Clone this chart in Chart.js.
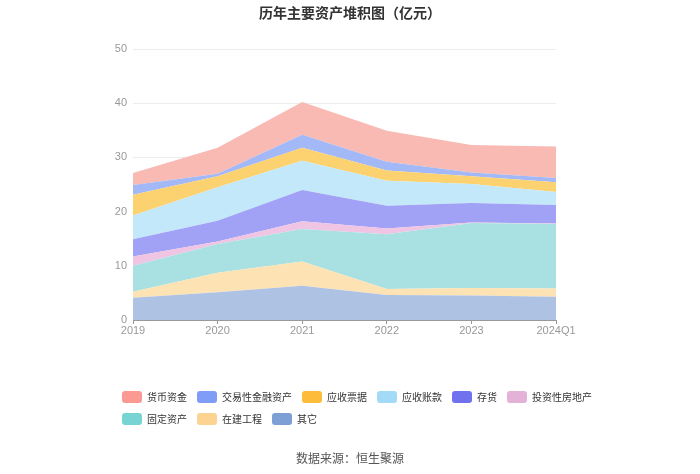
<!DOCTYPE html>
<html>
<head>
<meta charset="utf-8">
<script src="https://cdn.jsdelivr.net/npm/chart.js@4/dist/chart.umd.min.js"></script>
<style>
  body { margin: 0; background: #fff; font-family: "Noto Sans CJK SC", "Noto Sans", sans-serif; }
  #wrap { position: relative; width: 700px; height: 474px; }
  #title { position: absolute; top: 2px; left: 0; width: 700px; text-align: center; font-size: 14px; font-weight: bold; color: #333; }
  #legend { position: absolute; left: 122px; top: 387px; width: 480px; font-size: 10px; color: #333; line-height: 20px; }
  .item { display: inline-flex; align-items: center; margin-right: 10px; height: 20px; }
  .box { width: 20px; height: 12px; border-radius: 3px; margin-right: 5px; }
  #source { position: absolute; top: 449px; left: 0; width: 700px; text-align: center; font-size: 12px; color: #555; }
</style>
</head>
<body>
<div id="wrap">
  <canvas id="chart" width="700" height="474"></canvas>
  <div id="title">历年主要资产堆积图（亿元）</div>
  <div id="legend"></div>
  <div id="source">数据来源：恒生聚源</div>
</div>
<script>
// ===== 数据 =====
const years = ['2019', '2020', '2021', '2022', '2023', '2024Q1'];

// 从底到顶
const qita = [4.1, 5.1, 6.3, 4.6, 4.5, 4.3];          // 其它
const zaijian = [1.1, 3.6, 4.5, 1.1, 1.4, 1.5];       // 在建工程
const guding = [4.8, 5.3, 6.0, 10.1, 12.0, 11.9];     // 固定资产
const touzi = [1.7, 0.5, 1.4, 1.1, 0.1, 0.1];         // 投资性房地产
const cunhuo = [3.2, 3.8, 5.8, 4.2, 3.6, 3.4];        // 存货
const zhangkuan = [4.4, 6.2, 5.4, 4.6, 3.5, 2.4];     // 应收账款
const piaoju = [3.8, 2.0, 2.4, 1.9, 1.4, 1.8];        // 应收票据
const jiaoyi = [1.8, 0.5, 2.4, 1.6, 0.7, 0.8];        // 交易性金融资产
const huobi = [2.2, 4.8, 6.0, 5.7, 5.1, 5.8];         // 货币资金

const yTicks = [0, 10, 20, 30, 40, 50];

// ===== 系列（图层顺序：底 -> 顶） =====
const series = [
    { name: '其它', data: qita, fill: '#aec3e4', swatch: '#7d9fd6' },
    { name: '在建工程', data: zaijian, fill: '#fde2b4', swatch: '#fdd391' },
    { name: '固定资产', data: guding, fill: '#a9e1e2', swatch: '#78d3d3' },
    { name: '投资性房地产', data: touzi, fill: '#efc5e3', swatch: '#e3b2d6' },
    { name: '存货', data: cunhuo, fill: '#a1a1f5', swatch: '#6f71ee' },
    { name: '应收账款', data: zhangkuan, fill: '#c3e8fa', swatch: '#a2daf8' },
    { name: '应收票据', data: piaoju, fill: '#fcd271', swatch: '#fdbd3b' },
    { name: '交易性金融资产', data: jiaoyi, fill: '#a3b8f6', swatch: '#7f9df7' },
    { name: '货币资金', data: huobi, fill: '#f8bab3', swatch: '#fa9a93' }
];

// ===== 图例（自定义） =====
const legendOrder = ['货币资金', '交易性金融资产', '应收票据', '应收账款', '存货', '投资性房地产', '固定资产', '在建工程', '其它'];
const legendEl = document.getElementById('legend');
legendOrder.forEach(n => {
    const s = series.find(x => x.name === n);
    const item = document.createElement('span');
    item.className = 'item';
    item.innerHTML = `<span class="box" style="background:${s.swatch}"></span>${s.name}`;
    legendEl.appendChild(item);
});

// ===== 图表 =====
new Chart(document.getElementById('chart'), {
    type: 'line',
    data: {
        labels: years,
        datasets: series.map((s, i) => ({
            label: s.name,
            data: s.data,
            backgroundColor: s.fill,
            borderWidth: 0,
            pointRadius: 0,
            tension: 0,
            fill: i === 0 ? 'origin' : '-1'
        }))
    },
    options: {
        responsive: false,
        animation: false,
        layout: { padding: { left: 93, right: 144, top: 49, bottom: 134 } },
        plugins: { legend: { display: false }, tooltip: { enabled: false } },
        scales: {
            x: {
                offset: false,
                grid: { display: true, drawOnChartArea: false, drawTicks: true, tickLength: 4, color: '#999' },
                border: { color: '#999' },
                ticks: { color: '#999', font: { size: 11 }, padding: 0, maxRotation: 0 },
                afterFit: s => { s.height = 20; }
            },
            y: {
                stacked: true,
                min: 0,
                max: 50,
                afterBuildTicks: s => { s.ticks = yTicks.map(v => ({ value: v })); },
                grid: { color: '#ececec', drawTicks: false },
                border: { display: false },
                ticks: { color: '#999', font: { size: 11 }, padding: 6 },
                afterFit: s => { s.width = 40; }
            }
        }
    }
});
</script>
</body>
</html>
